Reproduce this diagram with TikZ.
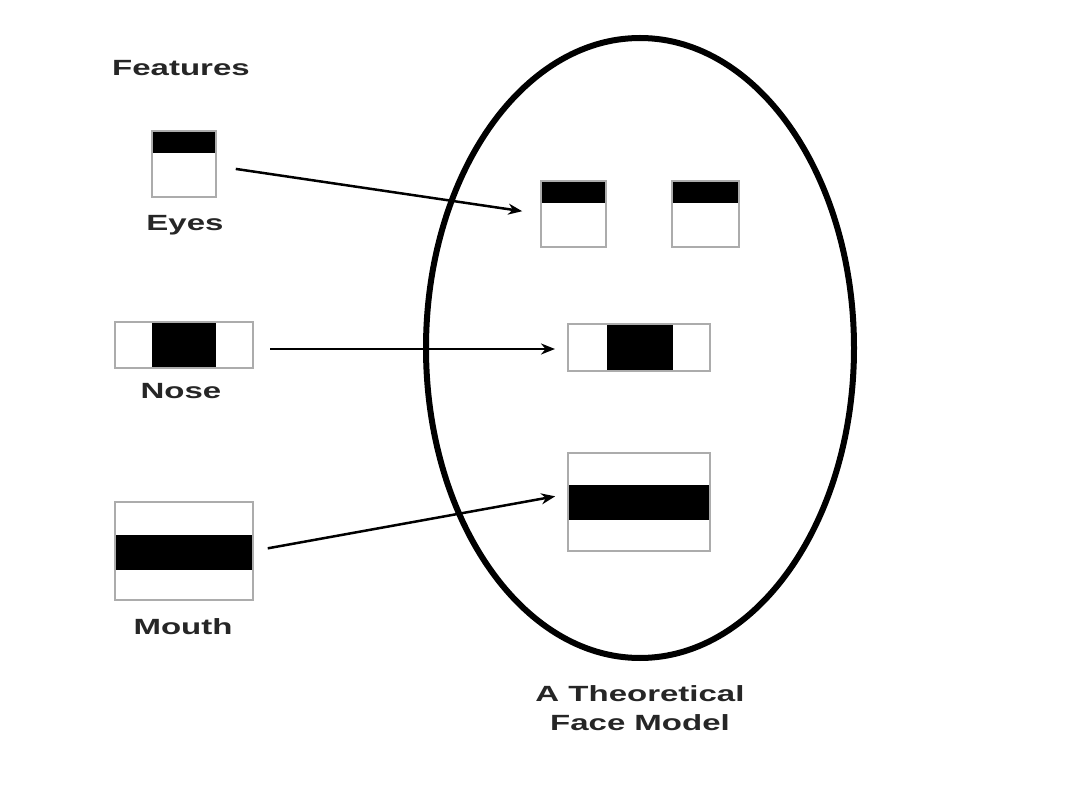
\documentclass[tikz,border=0pt]{standalone}
\usepackage{fontspec}
\setmainfont{Liberation Sans}
\usetikzlibrary{arrows.meta}
\newcommand{\wide}[1]{\scalebox{1.5}[1]{#1}}
\begin{document}
\begin{tikzpicture}[x=1pt,y=-1pt,
  box/.style={draw=gray!65, line width=2pt, fill=white, inner sep=0pt, outer sep=0pt},
  rim/.style={draw=gray!65, line width=2pt},
  lbl/.style={font=\fontsize{22}{29}\selectfont\bfseries, text=black!85, inner sep=0pt, align=center},
  arr/.style={-{Stealth[length=14pt,width=11pt]}, line width=2.5pt}]
\useasboundingbox[fill=white] (0,0) rectangle (1080,799);

% title
\node[lbl] (title) at (181,68) {\wide{Features}};

% feature: eyes
\node[box, minimum width=64pt, minimum height=66pt] (fe) at (184,164) {};
\fill (fe.north west) rectangle ([yshift=-22pt]fe.north east);
\draw[rim] (fe.south west) rectangle (fe.north east);
\node[lbl] (fel) at (185,225) {\wide{Eyes}};

% feature: nose
\node[box, minimum width=138pt, minimum height=46pt] (fn) at (184,345) {};
\fill ([xshift=-32pt]fn.north) rectangle ([xshift=32pt]fn.south);
\draw[rim] (fn.south west) rectangle (fn.north east);
\node[lbl] (fnl) at (181,391) {\wide{Nose}};

% feature: mouth
\node[box, minimum width=138pt, minimum height=98pt] (fm) at (184,551) {};
\fill ([yshift=-33pt]fm.north west) rectangle ([yshift=-68pt]fm.north east);
\draw[rim] (fm.south west) rectangle (fm.north east);
\node[lbl] (fml) at (183,627) {\wide{Mouth}};

% face outline
\draw[line width=6pt] (640,348) ellipse [x radius=214, y radius=310];

% face: eyes
\node[box, minimum width=65pt, minimum height=66pt] (le) at (573.5,214) {};
\fill (le.north west) rectangle ([yshift=-22pt]le.north east);
\draw[rim] (le.south west) rectangle (le.north east);
\node[box, minimum width=67pt, minimum height=66pt] (re) at (705.5,214) {};
\fill (re.north west) rectangle ([yshift=-22pt]re.north east);
\draw[rim] (re.south west) rectangle (re.north east);

% face: nose
\node[box, minimum width=142pt, minimum height=47pt] (no) at (639,347.5) {};
\fill ([xshift=-32pt]no.north) rectangle ([xshift=34pt]no.south);
\draw[rim] (no.south west) rectangle (no.north east);

% face: mouth
\node[box, minimum width=142pt, minimum height=98pt] (mo) at (639,502) {};
\fill ([yshift=-32pt]mo.north west) rectangle ([yshift=-67pt]mo.north east);
\draw[rim] (mo.south west) rectangle (mo.north east);

% face label
\node[lbl] (fl) at (640,708) {\wide{A Theoretical}\\\wide{Face Model}};

% arrows
\draw[arr, shorten <=20pt, shorten >=19pt] ([yshift=-2pt]fe.east) -- (le.west);
\draw[arr, shorten <=17pt, shorten >=13pt] ([yshift=-4pt]fn.east) -- ([yshift=-1.5pt]no.west);
\draw[arr, shorten <=15pt, shorten >=13pt] (fm.east) -- ([yshift=8pt]mo.west);
\end{tikzpicture}
\end{document}
